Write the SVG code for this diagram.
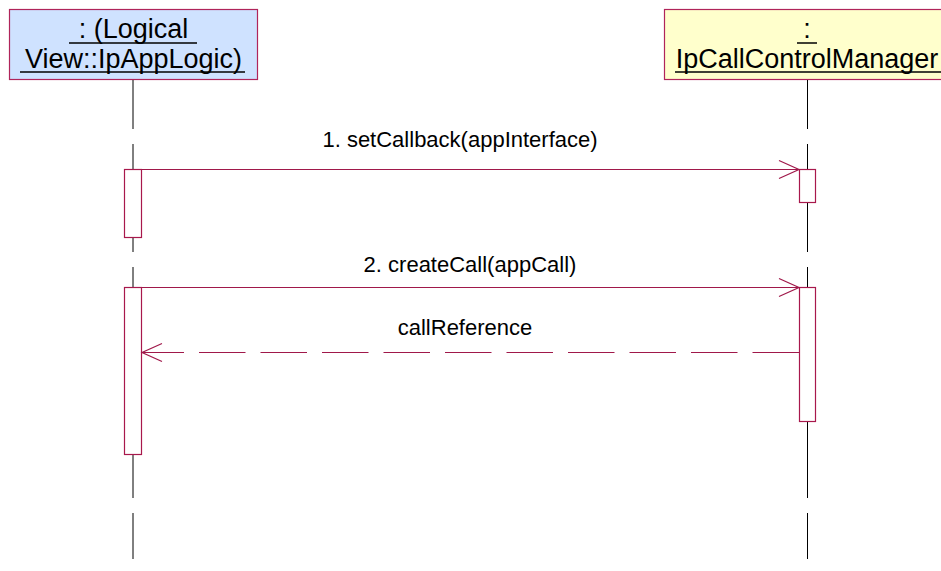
<svg xmlns="http://www.w3.org/2000/svg" width="941" height="571" viewBox="0 0 941 571">
<style>
.hdr{font-family:"Liberation Sans",Arial,sans-serif;font-size:27px;fill:#000;text-anchor:middle}
.msg{font-family:"Liberation Sans",Arial,sans-serif;font-size:22px;fill:#000;text-anchor:middle}
.box{stroke:#B0245A;stroke-width:1.2}
.life{stroke:#000;stroke-width:1;fill:none}
.act{fill:#fff;stroke:#A8184C;stroke-width:1.2}
.m{stroke:#A0184A;stroke-width:1.2;fill:none}
.ul{stroke:#000;stroke-width:1.5}
</style>
<rect width="941" height="571" fill="#fff"/>
<g id="node-applogic">
<rect class="box" x="9.5" y="9.5" width="248" height="70" fill="#CFE2FF"/>
<text class="hdr" x="133.5" y="38" xml:space="preserve"> : (Logical </text>
<line class="ul" x1="69" y1="43" x2="197" y2="43"/>
<text class="hdr" x="133.5" y="68">View::IpAppLogic)</text>
<line class="ul" x1="20" y1="72" x2="245" y2="72"/>
<line class="life" x1="133" y1="80" x2="133" y2="129"/>
<line class="life" x1="133" y1="144" x2="133" y2="169"/>
<line class="life" x1="133" y1="238" x2="133" y2="252"/>
<line class="life" x1="133" y1="267" x2="133" y2="287"/>
<line class="life" x1="133" y1="454" x2="133" y2="498"/>
<line class="life" x1="133" y1="513" x2="133" y2="559"/>
<rect class="act" x="124.5" y="169.5" width="17" height="68"/>
<rect class="act" x="124.5" y="287.5" width="17" height="167"/>
</g>
<g id="node-callmgr">
<rect class="box" x="664.5" y="9.5" width="290" height="70" fill="#FFFFCC"/>
<text class="hdr" x="807" y="38">:</text>
<line class="ul" x1="797" y1="43" x2="817" y2="43"/>
<text class="hdr" x="807" y="68">IpCallControlManager</text>
<line class="ul" x1="675" y1="72" x2="945" y2="72"/>
<line class="life" x1="807.5" y1="80" x2="807.5" y2="129"/>
<line class="life" x1="807.5" y1="144" x2="807.5" y2="169"/>
<line class="life" x1="807.5" y1="202" x2="807.5" y2="252"/>
<line class="life" x1="807.5" y1="267" x2="807.5" y2="287"/>
<line class="life" x1="807.5" y1="421" x2="807.5" y2="498"/>
<line class="life" x1="807.5" y1="513" x2="807.5" y2="559"/>
<rect class="act" x="799.5" y="169.5" width="16" height="33"/>
<rect class="act" x="799.5" y="287.5" width="16" height="134"/>
</g>
<g id="connectors">
<line class="m" x1="142" y1="169.5" x2="799" y2="169.5"/>
<polyline class="m" points="779,160.5 799,169.5 779,178.5"/>
<text class="msg" x="460" y="147">1. setCallback(appInterface)</text>
<line class="m" x1="142" y1="287.5" x2="799" y2="287.5"/>
<polyline class="m" points="779,278.5 799,287.5 779,296.5"/>
<text class="msg" x="470" y="272">2. createCall(appCall)</text>
<line class="m" x1="799" y1="352.5" x2="142" y2="352.5" stroke-dasharray="46.5 15"/>
<polyline class="m" points="162,343.5 142,352.5 162,361.5"/>
<text class="msg" x="465" y="335">callReference</text>
</g>
</svg>
